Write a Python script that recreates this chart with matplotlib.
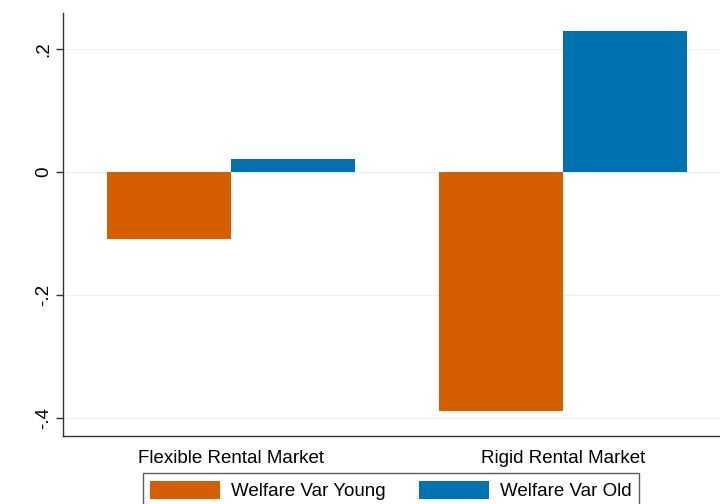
import matplotlib.pyplot as plt
import numpy as np

plt.rcParams['font.family'] = ['Liberation Sans', 'DejaVu Sans']

# data
markets = ['Flexible Rental Market', 'Rigid Rental Market']
welfare_young = [-0.109, -0.389]
welfare_old = [0.021, 0.229]
series_labels = ['Welfare Var Young', 'Welfare Var Old']
ytick_vals = [-0.4, -0.2, 0.0, 0.2]
ytick_labels = ['-.4', '-.2', '0', '.2']

col_young = '#D55E00'
col_old = '#0072B2'

fig = plt.figure(figsize=(7.2, 5.04), dpi=100)
ax = fig.add_axes([0.0875, 0.135, 0.9125, 0.839])

x = np.arange(len(markets))
w = 0.3735
b1 = ax.bar(x - w / 2, welfare_young, w, color=col_young, label=series_labels[0], zorder=3)
b2 = ax.bar(x + w / 2, welfare_old, w, color=col_old, label=series_labels[1], zorder=3)

ax.set_xlim(-0.506, 1.473)
ax.set_ylim(-0.429, 0.2585)
ax.set_xticks(x)
ax.set_xticklabels(markets, fontsize=13.5)
ax.tick_params(axis='x', length=0, pad=10)
ax.set_yticks(ytick_vals)
ax.set_yticklabels(ytick_labels, fontsize=13.5, rotation=90, va='center')
ax.tick_params(axis='y', length=5, width=1, color='#333333', pad=3)

ax.grid(axis='y', color='#f0f0f0', linewidth=0.8, zorder=0)
for s in ['top', 'right']:
    ax.spines[s].set_visible(False)
for s in ['left', 'bottom']:
    ax.spines[s].set_color('#333333')
    ax.spines[s].set_linewidth(1.0)

leg = fig.legend(handles=[b1, b2], labels=series_labels, loc='upper left',
                 bbox_to_anchor=(0.1986, 0.0615), borderaxespad=0, ncol=2,
                 fontsize=13.5, frameon=True, fancybox=False, edgecolor='#333333',
                 handlelength=3.7, handleheight=1.15, handletextpad=0.6,
                 columnspacing=1.8, borderpad=0.4)
leg.get_frame().set_linewidth(1.0)

fig.savefig('out.png', dpi=100)
